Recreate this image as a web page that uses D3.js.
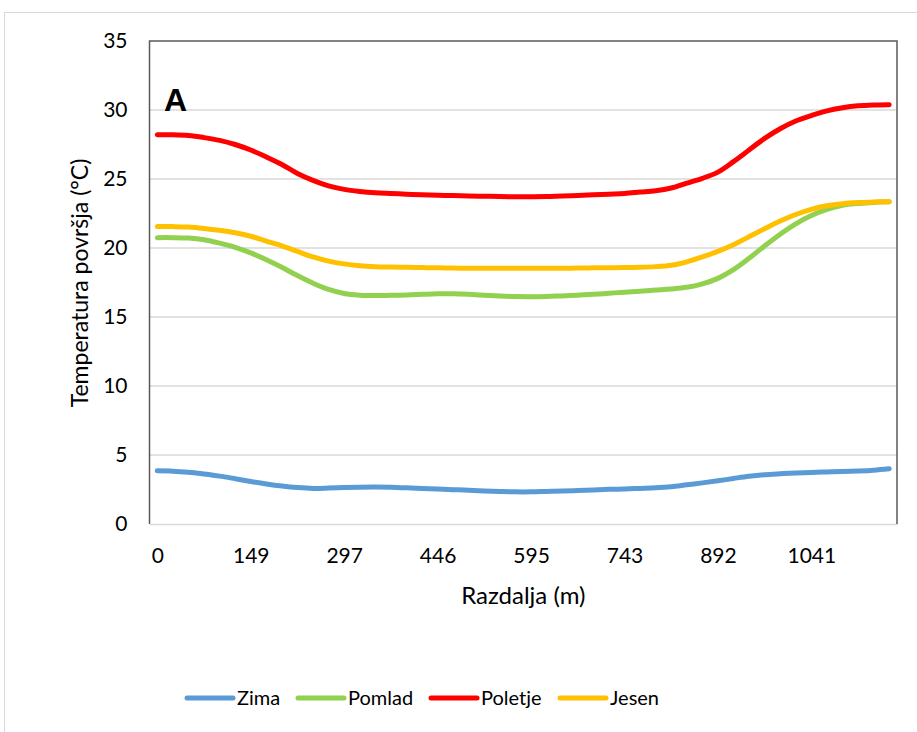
<!DOCTYPE html>
<html>
<head>
<meta charset="utf-8">
<script src="https://cdn.jsdelivr.net/npm/d3@7"></script>
<style>
  body { margin: 0; background: #fff; }
  svg text { font-family: Lato, "Noto Sans", sans-serif; fill: #000; }
</style>
</head>
<body>
<svg id="chart" width="917" height="732"></svg>
<script>
// distance along the profile (m)
var distances = [0, 25, 50, 74, 99, 124, 149, 173, 198, 223, 248, 273,
  297, 322, 347, 372, 396, 421, 446, 471, 496, 520, 545, 570,
  595, 620, 644, 669, 694, 719, 743, 768, 793, 818, 843, 867,
  892, 917, 942, 966, 991, 1016, 1041, 1066, 1090, 1115, 1140, 1165]
var tickLabels = [0, 149, 297, 446, 595, 743, 892, 1041]
var yTicks = [0, 5, 10, 15, 20, 25, 30, 35]

var zima = [3.85, 3.83, 3.75, 3.62, 3.47, 3.28, 3.08, 2.9, 2.75, 2.64, 2.58, 2.6,
  2.64, 2.67, 2.68, 2.66, 2.62, 2.58, 2.53, 2.49, 2.45, 2.4, 2.36, 2.33,
  2.33, 2.36, 2.39, 2.43, 2.47, 2.51, 2.54, 2.58, 2.62, 2.7, 2.84, 2.98,
  3.13, 3.3, 3.46, 3.57, 3.64, 3.7, 3.74, 3.77, 3.8, 3.84, 3.9, 4.0]
var pomlad = [20.75, 20.75, 20.72, 20.6, 20.35, 20.05, 19.65, 19.15, 18.6, 18.0, 17.45, 17.0,
  16.7, 16.58, 16.55, 16.57, 16.6, 16.64, 16.68, 16.68, 16.64, 16.58, 16.52, 16.48,
  16.47, 16.49, 16.53, 16.58, 16.64, 16.72, 16.8, 16.87, 16.95, 17.03, 17.15, 17.4,
  17.8, 18.43, 19.25, 20.15, 21.0, 21.75, 22.35, 22.8, 23.1, 23.23, 23.3, 23.36]
var poletje = [28.2, 28.2, 28.15, 28.0, 27.8, 27.5, 27.1, 26.6, 26.05, 25.4, 24.9, 24.5,
  24.25, 24.1, 24.0, 23.95, 23.9, 23.85, 23.82, 23.8, 23.77, 23.75, 23.73, 23.72,
  23.72, 23.73, 23.77, 23.8, 23.85, 23.9, 23.95, 24.05, 24.15, 24.35, 24.7, 25.05,
  25.5, 26.26, 27.1, 27.94, 28.64, 29.2, 29.6, 29.94, 30.16, 30.3, 30.36, 30.38]
var jesen = [21.55, 21.55, 21.52, 21.42, 21.28, 21.1, 20.85, 20.5, 20.15, 19.75, 19.35, 19.05,
  18.85, 18.72, 18.65, 18.62, 18.6, 18.58, 18.56, 18.55, 18.53, 18.53, 18.53, 18.53,
  18.53, 18.53, 18.53, 18.55, 18.56, 18.57, 18.58, 18.6, 18.65, 18.75, 19.0, 19.35,
  19.76, 20.24, 20.82, 21.4, 21.95, 22.43, 22.8, 23.06, 23.21, 23.29, 23.33, 23.36]

var seriesNames = ['Zima', 'Pomlad', 'Poletje', 'Jesen']
var seriesColors = ['#5b9bd5', '#92d050', '#ff0000', '#ffc000']
var seriesValues = [zima, pomlad, poletje, jesen]

var svg = d3.select('#chart')
var plot = { left: 149.5, top: 41, right: 897, bottom: 524 }

// outer chart border
svg.append('rect')
   .attr('x', 4.5).attr('y', 12.5)
   .attr('width', 930).attr('height', 740)
   .attr('fill', 'none')
   .attr('stroke', '#d9d9d9')

var x = d3.scalePoint()
          .domain(d3.range(distances.length))
          .range([plot.left, plot.right])
          .padding(0.5)
var y = d3.scaleLinear()
          .domain([0, 35])
          .range([plot.bottom, plot.top])

// gridlines
svg.append('g')
   .selectAll('line')
   .data(yTicks.slice(1, -1))
   .enter()
   .append('line')
   .attr('x1', plot.left).attr('x2', plot.right)
   .attr('y1', function (d) { return y(d) })
   .attr('y2', function (d) { return y(d) })
   .attr('stroke', '#d9d9d9')
   .attr('stroke-width', 1.5)

// x axis
var xAxis = d3.axisBottom(x)
              .tickValues(tickLabels.map(function (t) { return distances.indexOf(t) }))
              .tickFormat(function (i) { return distances[i] })
              .tickSize(0)
              .tickPadding(24)
var gx = svg.append('g')
            .attr('transform', 'translate(0,' + plot.bottom + ')')
            .call(xAxis)
gx.select('.domain').attr('stroke', '#d9d9d9').attr('stroke-width', 1.5)
gx.selectAll('text').style('font-size', '21px')

// y axis
var yAxis = d3.axisLeft(y).tickValues(yTicks).tickSize(0).tickPadding(22)
var gy = svg.append('g')
            .attr('transform', 'translate(' + plot.left + ',0)')
            .call(yAxis)
gy.select('.domain').remove()
gy.selectAll('text').style('font-size', '21px')

// plot border: left, top, right
svg.append('path')
   .attr('d', 'M' + plot.left + ',' + plot.bottom + 'V' + plot.top + 'H' + plot.right + 'V' + plot.bottom)
   .attr('fill', 'none')
   .attr('stroke', '#595959')
   .attr('stroke-width', 1.5)

// lines
var line = d3.line()
             .x(function (d, i) { return x(i) })
             .y(function (d) { return y(d) })
             .curve(d3.curveCatmullRom.alpha(0.5))

svg.append('g')
   .selectAll('path')
   .data(seriesValues)
   .enter()
   .append('path')
   .attr('d', function (d) { return line(d) })
   .attr('fill', 'none')
   .attr('stroke', function (d, i) { return seriesColors[i] })
   .attr('stroke-width', 5)
   .attr('stroke-linecap', 'round')
   .attr('stroke-linejoin', 'round')

// panel letter
svg.append('text')
   .attr('x', 164).attr('y', 111)
   .style('font-size', '32px')
   .style('font-weight', 'bold')
   .style('font-family', 'Arial, "Liberation Sans", sans-serif')
   .text('A')

// axis titles
svg.append('text')
   .attr('x', (plot.left + plot.right) / 2).attr('y', 604)
   .attr('text-anchor', 'middle')
   .style('font-size', '24px')
   .text('Razdalja (m)')
svg.append('text')
   .attr('transform', 'translate(88,283) rotate(-90)')
   .attr('text-anchor', 'middle')
   .style('font-size', '23px')
   .text('Temperatura površja (°C)')

// legend
var legendX = [187, 298, 431, 560]
var lg = svg.append('g')
            .selectAll('g')
            .data(seriesNames)
            .enter()
            .append('g')
            .attr('transform', function (d, i) { return 'translate(' + legendX[i] + ',698)' })
lg.append('line')
  .attr('x1', 0).attr('x2', 46)
  .attr('stroke', function (d, i) { return seriesColors[i] })
  .attr('stroke-width', 5)
  .attr('stroke-linecap', 'round')
lg.append('text')
  .attr('x', 50).attr('y', 7)
  .style('font-size', '20px')
  .text(function (d) { return d })
</script>
</body>
</html>
